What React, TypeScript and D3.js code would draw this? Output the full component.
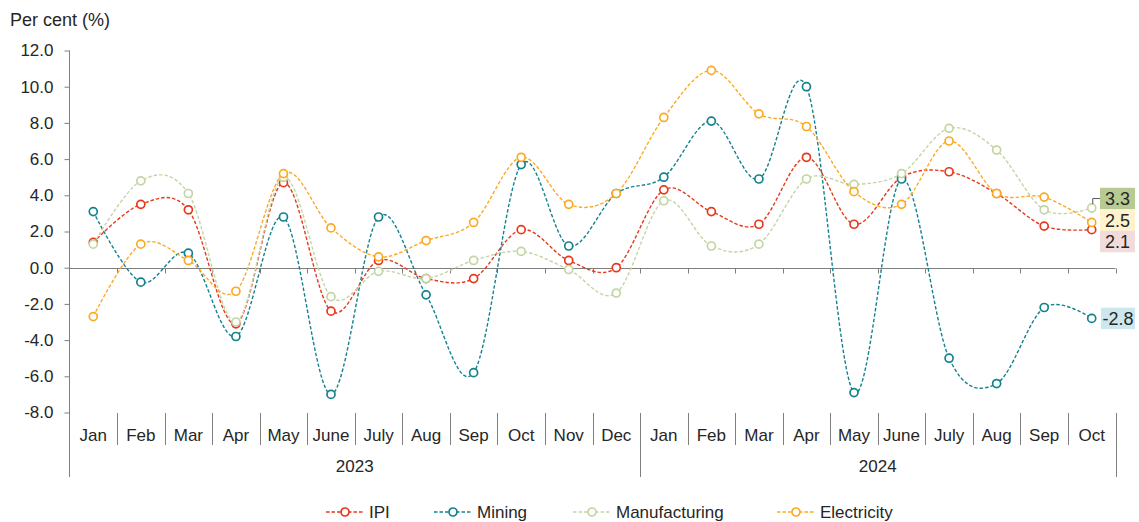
import React, { useEffect, useRef } from "react";
import * as d3 from "d3";

const months2023 = ["Jan", "Feb", "Mar", "Apr", "May", "June", "July", "Aug", "Sep", "Oct", "Nov", "Dec"];
const months2024 = ["Jan", "Feb", "Mar", "Apr", "May", "June", "July", "Aug", "Sep", "Oct"];
const years = ["2023", "2024"];

const ipi = [1.4, 3.5, 3.2, -3.1, 4.7, -2.4, 0.4, -0.6, -0.6, 2.1, 0.4, 0.0, 4.3, 3.1, 2.4, 6.1, 2.4, 5.0, 5.3, 4.1, 2.3, 2.1];
const mining = [3.1, -0.8, 0.8, -3.8, 2.8, -7.0, 2.8, -1.5, -5.8, 5.7, 1.2, 4.1, 5.0, 8.1, 4.9, 10.0, -6.9, 4.9, -5.0, -6.4, -2.2, -2.8];
const manufacturing = [1.3, 4.8, 4.1, -3.0, 5.0, -1.6, -0.2, -0.6, 0.4, 0.9, -0.1, -1.4, 3.7, 1.2, 1.3, 4.9, 4.6, 5.2, 7.7, 6.5, 3.2, 3.3];
const electricity = [-2.7, 1.3, 0.4, -1.3, 5.2, 2.2, 0.6, 1.5, 2.5, 6.1, 3.5, 4.1, 8.3, 10.9, 8.5, 7.8, 4.2, 3.5, 7.0, 4.1, 3.9, 2.5];

const seriesNames = ["IPI", "Mining", "Manufacturing", "Electricity"];
const seriesValues = [ipi, mining, manufacturing, electricity];
const colors = ["#e8381b", "#13828f", "#c3d5a4", "#fdaa22"];
const labelFills = ["#f2dcdb", "#cce8ee", "#b7ca92", "#fff2cc"];
const yTicks = [-8, -6, -4, -2, 0, 2, 4, 6, 8, 10, 12];

export default function App() {
  const svgRef = useRef<SVGSVGElement>(null);

  useEffect(() => {
    const svg = d3.select(svgRef.current);
    svg.selectAll("*").remove();
    const font = "'Liberation Sans', Arial, sans-serif";
    const textColor = "#262626";
    const axisColor = "#7f7f7f";

    const keys = [...months2023.map((m) => "2023-" + m), ...months2024.map((m) => "2024-" + m)];
    const x = d3.scaleBand().domain(keys).range([69.5, 1115.5]);
    const y = d3.scaleLinear().domain([-8, 12]).range([412.5, 50.5]);
    const cx = (i: number) => (x(keys[i]) as number) + x.bandwidth() / 2;

    svg
      .append("text")
      .attr("x", 10)
      .attr("y", 26)
      .attr("font-family", font)
      .attr("font-size", 18)
      .attr("fill", textColor)
      .text("Per cent (%)");

    // y axis
    const yAxis = svg
      .append("g")
      .attr("transform", "translate(69.5,0)")
      .call(
        d3
          .axisLeft(y)
          .tickValues(yTicks)
          .tickSize(5)
          .tickSizeOuter(0)
          .tickFormat((d) => (d as number).toFixed(1))
      );
    yAxis.select(".domain").remove();
    yAxis.selectAll("line").attr("stroke", axisColor);
    yAxis
      .selectAll("text")
      .attr("font-family", font)
      .attr("font-size", 17)
      .attr("fill", textColor)
      .attr("x", -16);
    svg
      .append("line")
      .attr("x1", 69.5)
      .attr("x2", 69.5)
      .attr("y1", y(12))
      .attr("y2", 477)
      .attr("stroke", axisColor);

    // zero line with category ticks
    const y0 = Math.round(y(0)) + 0.5;
    svg
      .append("line")
      .attr("x1", 69.5)
      .attr("x2", 1115.5)
      .attr("y1", y0)
      .attr("y2", y0)
      .attr("stroke", axisColor);
    const bounds = keys.map((k) => x(k) as number).concat([1115.5]);
    svg
      .append("g")
      .selectAll("line")
      .data(bounds.slice(1))
      .join("line")
      .attr("x1", (d) => Math.round(d) + 0.5)
      .attr("x2", (d) => Math.round(d) + 0.5)
      .attr("y1", y0)
      .attr("y2", y0 + 5)
      .attr("stroke", axisColor);

    // category axis at the bottom
    const yearBounds = [0, months2023.length, keys.length];
    svg
      .append("g")
      .selectAll("line")
      .data(bounds.map((b, i) => ({ b, i })).filter((d) => d.i > 0))
      .join("line")
      .attr("x1", (d) => Math.round(d.b) + 0.5)
      .attr("x2", (d) => Math.round(d.b) + 0.5)
      .attr("y1", 413)
      .attr("y2", (d) => (yearBounds.includes(d.i) ? 477 : 445))
      .attr("stroke", axisColor);

    svg
      .append("g")
      .selectAll("text")
      .data(keys)
      .join("text")
      .attr("x", (d) => (x(d) as number) + x.bandwidth() / 2)
      .attr("y", 441)
      .attr("text-anchor", "middle")
      .attr("font-family", font)
      .attr("font-size", 17)
      .attr("fill", textColor)
      .text((d) => d.split("-")[1]);

    svg
      .append("g")
      .selectAll("text")
      .data(years)
      .join("text")
      .attr("x", (d, i) => (bounds[yearBounds[i]] + bounds[yearBounds[i + 1]]) / 2)
      .attr("y", 472)
      .attr("text-anchor", "middle")
      .attr("font-family", font)
      .attr("font-size", 17)
      .attr("fill", textColor)
      .text((d) => d);

    // series
    const line = d3
      .line<number>()
      .x((d, i) => cx(i))
      .y((d) => y(d))
      .curve(d3.curveCardinal.tension(0));

    seriesValues.forEach((vals, s) => {
      const g = svg.append("g");
      g.append("path")
        .attr("d", line(vals))
        .attr("fill", "none")
        .attr("stroke", colors[s])
        .attr("stroke-width", 1.4)
        .attr("stroke-dasharray", "3.5,2");
      g.selectAll("circle")
        .data(vals)
        .join("circle")
        .attr("cx", (d, i) => cx(i))
        .attr("cy", (d) => y(d))
        .attr("r", 4)
        .attr("fill", "#fff")
        .attr("stroke", colors[s])
        .attr("stroke-width", 1.7);
    });

    // end labels, pushed apart where they collide
    const last = keys.length - 1;
    const boxH = 21.5;
    const labels = seriesValues.map((vals, s) => ({ s, v: vals[last], cy: y(vals[last]) }));
    labels.sort((a, b) => a.cy - b.cy);
    for (let iter = 0; iter < 50; iter++) {
      for (let i = 1; i < labels.length; i++) {
        const overlap = labels[i - 1].cy + boxH - labels[i].cy;
        if (overlap > 0) {
          labels[i - 1].cy -= overlap / 2;
          labels[i].cy += overlap / 2;
        }
      }
    }
    const lx = cx(last);
    labels.forEach((l) => {
      const g = svg.append("g");
      const shift = Math.abs(l.cy - y(l.v)) > 4;
      if (shift && l.cy < y(l.v)) {
        g.append("path")
          .attr("d", `M${lx + 1},${y(l.v) - 4} L${lx + 1},${l.cy} L1100,${l.cy}`)
          .attr("fill", "none")
          .attr("stroke", "#595959")
          .attr("stroke-width", 1);
      }
      const w = l.v < 0 ? 34 : 35;
      g.append("rect")
        .attr("x", 1135 - w)
        .attr("y", l.cy - boxH / 2)
        .attr("width", w)
        .attr("height", boxH)
        .attr("fill", labelFills[l.s]);
      g.append("text")
        .attr("x", 1135 - w / 2)
        .attr("y", l.cy + 6.5)
        .attr("text-anchor", "middle")
        .attr("font-family", font)
        .attr("font-size", 18)
        .attr("fill", textColor)
        .text(l.v.toFixed(1));
    });

    // legend
    const legendX = [326, 434, 573, 777];
    seriesNames.forEach((name, s) => {
      const g = svg.append("g").attr("transform", `translate(${legendX[s]},512)`);
      g.append("line")
        .attr("x1", 0)
        .attr("x2", 38)
        .attr("stroke", colors[s])
        .attr("stroke-width", 1.4)
        .attr("stroke-dasharray", "3.5,2");
      g.append("circle")
        .attr("cx", 19)
        .attr("r", 4)
        .attr("fill", "#fff")
        .attr("stroke", colors[s])
        .attr("stroke-width", 1.7);
      g.append("text")
        .attr("x", 43)
        .attr("y", 6)
        .attr("font-family", font)
        .attr("font-size", 17)
        .attr("fill", textColor)
        .text(name);
    });
  }, []);

  return (
    <svg
      ref={svgRef}
      width={1139}
      height={522}
      style={{ position: "absolute", left: 0, top: 0, background: "#fff" }}
    />
  );
}
